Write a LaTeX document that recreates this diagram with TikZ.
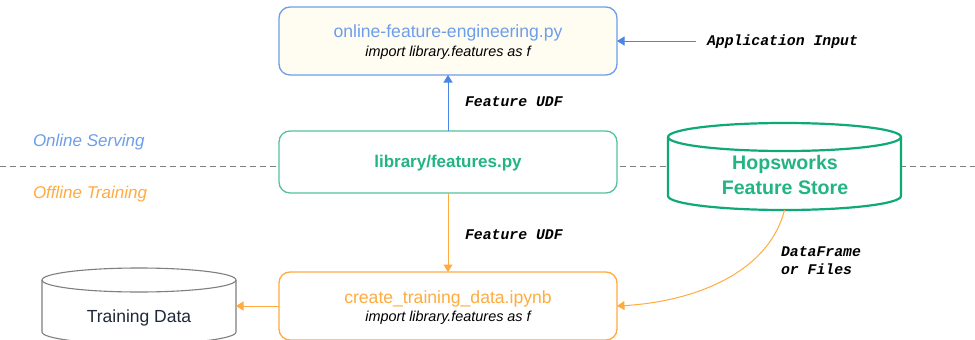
\documentclass[tikz,border=0pt]{standalone}
\usepackage{fontspec}
\setmainfont{Liberation Sans}
\setmonofont{Liberation Mono}
\usetikzlibrary{arrows.meta}
\definecolor{cblue}{HTML}{6D9EEB}
\definecolor{cblueA}{HTML}{4A86E8}
\definecolor{cgreen}{HTML}{55C29F}
\definecolor{cgreenD}{HTML}{0FA878}
\definecolor{ctext}{HTML}{22B483}
\definecolor{corange}{HTML}{FFAB40}
\definecolor{cyellow}{HTML}{FFFCF2}
\definecolor{cgray}{HTML}{7F7F7F}
\definecolor{cdark}{HTML}{1F2937}
\tikzset{
  every node/.style={inner sep=0pt,outer sep=0pt},
  boxnode/.style={draw,rounded corners=11pt,line width=1.3pt,fill=white,align=center},
  arrowline/.style={line width=1pt,-{Triangle[length=7.5pt,width=9pt]}},
  monolabel/.style={font=\ttfamily\bfseries\itshape\fontsize{14.8}{20}\selectfont,align=left,anchor=west},
  sidelabel/.style={font=\itshape\fontsize{17}{20}\selectfont,anchor=west},
  filetitle/.style={font=\fontsize{17.6}{23}\selectfont},
  importline/.style={font=\itshape\fontsize{14.4}{18}\selectfont},
}
\newcommand{\cylshape}[4]{% node, half width, rim depth, style
  \draw[#4,fill=white] (#1.north west) arc[start angle=180,end angle=0,x radius=#2,y radius=#3]
    -- (#1.south east) arc[start angle=0,end angle=-180,x radius=#2,y radius=#3] -- cycle;
  \draw[#4] (#1.north west) arc[start angle=180,end angle=360,x radius=#2,y radius=#3];
}
\begin{document}
\begin{tikzpicture}[x=1pt,y=-1pt]
\useasboundingbox (0,0) rectangle (975,340);
\clip (0,0) rectangle (975,340);
\fill[white] (0,0) rectangle (975,340);
\coordinate (dashL) at (0,166);
\coordinate (dashR) at (975,166);
\draw[cgray,line width=0.9pt,dash pattern=on 6pt off 4pt] (dashL) -- (dashR);

\node[boxnode,draw=cblue,fill=cyellow,minimum width=338pt,minimum height=68pt] (online) at (448,41) {};
\node[filetitle,text=cblue] (onlineT) at (448,33) {online-feature-engineering.py};
\node[importline,text=black] (onlineI) at (448,53) {import library.features as f};

\node[boxnode,draw=cgreen,minimum width=338pt,minimum height=62pt] (lib) at (448,162) {};
\node[text=ctext,font=\bfseries\fontsize{17}{20}\selectfont] (libT) at (448,163) {library/features.py};

\node[boxnode,draw=corange,minimum width=338pt,minimum height=68pt] (create) at (448,306) {};
\node[filetitle,text=corange] (createT) at (448,299) {create\_training\_data.ipynb};
\node[importline,text=black] (createI) at (448,317.5) {import library.features as f};

% Hopsworks cylinder
\node[minimum width=233pt,minimum height=59pt] (hops) at (784.5,166.5) {};
\cylshape{hops}{116.5pt}{14pt}{draw=cgreenD,line width=2.2pt}
\node[text=ctext,font=\bfseries\fontsize{19.6}{24.5}\selectfont,align=center] (hopsT) at (785,175) {Hopsworks\\Feature Store};

% Training data cylinder
\node[minimum width=194pt,minimum height=52pt] (train) at (139,306) {};
\cylshape{train}{97pt}{12pt}{draw=cgray,line width=1.1pt}
\node[text=cdark,font=\fontsize{17.5}{20}\selectfont] (trainT) at (139,318) {Training Data};

% connectors
\coordinate (appEnd) at (696,41);
\coordinate (hopsBottom) at (784.5,210);
\draw[arrowline,cblueA] (appEnd) -- (online.east);
\draw[arrowline,cblueA] (lib.north) -- (online.south);
\draw[arrowline,corange] (lib.south) -- (create.north);
\draw[arrowline,corange] (create.west) -- (train.east);
\draw[arrowline,corange] (hopsBottom) .. controls (768,275) and (690,302) .. (create.east);

% labels
\node[monolabel] (appL) at (707,42) {Application Input};
\node[monolabel] (udf1) at (465,102) {Feature UDF};
\node[monolabel] (udf2) at (465,235) {Feature UDF};
\node[monolabel,font=\ttfamily\bfseries\itshape\fontsize{14.8}{18}\selectfont] (dfL) at (781,260.5) {DataFrame\\or Files};
\node[sidelabel,text=cblue] (onS) at (33,142) {Online Serving};
\node[sidelabel,text=corange] (offT) at (33,194) {Offline Training};
\end{tikzpicture}
\end{document}
